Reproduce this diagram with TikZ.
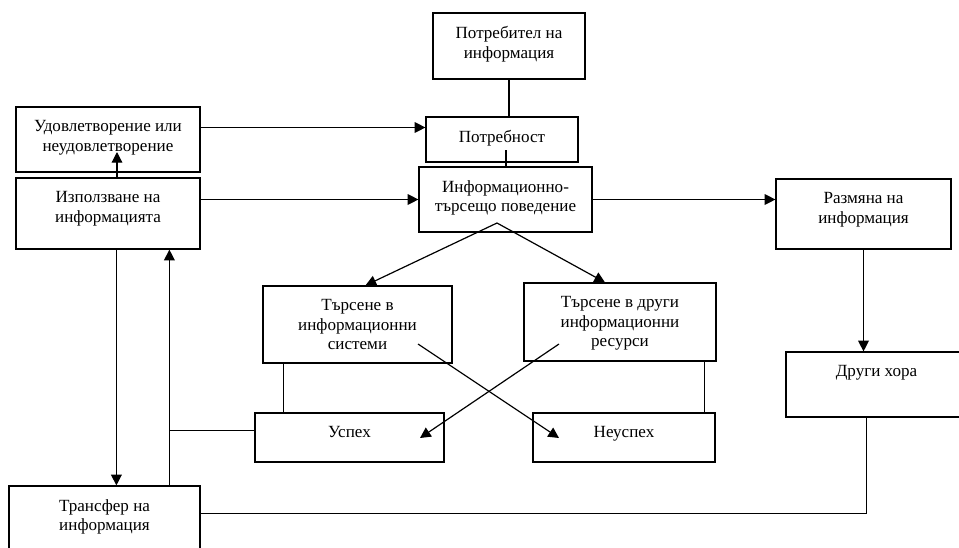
\documentclass[tikz,border=0pt]{standalone}
\usepackage{fontspec}
\setmainfont{Liberation Serif}
\usetikzlibrary{arrows.meta, positioning, calc, fit}

\begin{document}
\begin{tikzpicture}[
  x=0.75pt, y=-0.75pt,
  box/.style={draw, line width=0.9pt, inner sep=0pt},
  boxtext/.style={font=\fontsize{12.8}{14.8}\selectfont, align=center, inner sep=0pt},
  link/.style={line width=0.9pt},
  arrow/.style={link, -{Triangle[length=8pt, width=8pt]}}
]
  \clip (0,0) rectangle (959,547);

  % Boxes
  \node[box, fit={(433,13) (585,79)}]   (potr)   {};
  \node[box, fit={(426,117) (578,162)}] (nuzhda) {};
  \node[box, fit={(419,167) (592,232)}] (itp)    {};
  \node[box, fit={(16,107) (200,172)}]  (udov)   {};
  \node[box, fit={(16,178) (200,249)}]  (izpolz) {};
  \node[box, fit={(776,179) (951,249)}] (razm)   {};
  \node[box, fit={(263,286) (452,363)}] (tis)    {};
  \node[box, fit={(524,283) (716,361)}] (tdir)   {};
  \node[box, fit={(255,413) (444,462)}] (uspeh)  {};
  \node[box, fit={(533,413) (715,462)}] (neusp)  {};
  \node[box, fit={(786,352) (967,417)}] (drugi)  {};
  \node[box, fit={(9,486) (200,570)}]   (transf) {};

  % Texts
  \node[boxtext, below=10.2pt of potr.north]   (potr-t)   {Потребител на\\информация};
  \node[boxtext, below=10.2pt of nuzhda.north] (nuzhda-t) {Потребност};
  \node[boxtext, below=10.2pt of itp.north]    (itp-t)    {Информационно-\\търсещо поведение};
  \node[boxtext, below=10.2pt of udov.north]   (udov-t)   {Удовлетворение или\\неудовлетворение};
  \node[boxtext, below=10.2pt of izpolz.north] (izpolz-t) {Използване на\\информацията};
  \node[boxtext, below=10.2pt of razm.north]   (razm-t)   {Размяна на\\информация};
  \node[boxtext, below=10.2pt of tis.north]    (tis-t)    {Търсене в\\информационни\\системи};
  \node[boxtext, below=10.2pt of tdir.north]   (tdir-t)   {Търсене в други\\информационни\\ресурси};
  \node[boxtext, below=10.2pt of uspeh.north]  (uspeh-t)  {Успех};
  \node[boxtext, below=10.2pt of neusp.north]  (neusp-t)  {Неуспех};
  \node[boxtext, below=10.2pt of drugi.north]  (drugi-t)  {Други хора};
  \node[boxtext, below=10.2pt of transf.north] (transf-t) {Трансфер на\\информация};

  % Loose ends inside boxes
  \coordinate (nuzhda-end) at (506,150);
  \coordinate (itp-fork)   at (497,223);
  \coordinate (udov-end)   at (117,152);
  \coordinate (tis-from)   at (418,344);
  \coordinate (tdir-from)  at (559,344);
  \coordinate (uspeh-to)   at (420,438);
  \coordinate (neusp-to)   at (559,438);
  \coordinate (uspeh-in)   at ($(uspeh.west)+(0,-7)$);
  \coordinate (up-foot)    at ($(transf.north west)+(161,0)$);

  % Top chain
  \draw[link] (potr.south) -- (potr.south |- nuzhda.north);
  \draw[link] (nuzhda-end) -- (nuzhda-end |- itp.north);
  \draw[arrow] ($(udov.east)+(0,-12)$) -- ($(nuzhda.west)+(0,-12)$);
  \draw[arrow] (izpolz.east |- itp.west) -- (itp.west);
  \draw[arrow] (udov-end |- izpolz.north) -- (udov-end);
  \draw[arrow] (itp.east) -- (itp.east -| razm.west);

  % Search branches
  \draw[arrow] (itp-fork) -- ($(tis.north)+(8,0)$);
  \draw[arrow] (itp-fork) -- ($(tdir.north)+(-15,0)$);
  \draw[link] ($(tis.south west)+(21,0)$) -- ($(uspeh.north west)+(29,0)$);
  \draw[link] ($(tdir.south east)+(-12,0)$) -- ($(neusp.north east)+(-11,0)$);
  \draw[arrow] (tis-from) -- (neusp-to);
  \draw[arrow] (tdir-from) -- (uspeh-to);

  % Back to use of information
  \draw[arrow] ($(izpolz.south west)+(101,0)$) -- ($(transf.north west)+(108,0)$);
  \draw[arrow] (up-foot) -- (up-foot |- izpolz.south);
  \draw[link] (uspeh-in) -- (uspeh-in -| up-foot);

  % Exchange
  \draw[arrow] (razm.south) -- (razm.south |- drugi.north);
  \draw[link] ($(drugi.south west)+(81,0)$) |- ($(transf.north east)+(0,28)$);
\end{tikzpicture}
\end{document}
